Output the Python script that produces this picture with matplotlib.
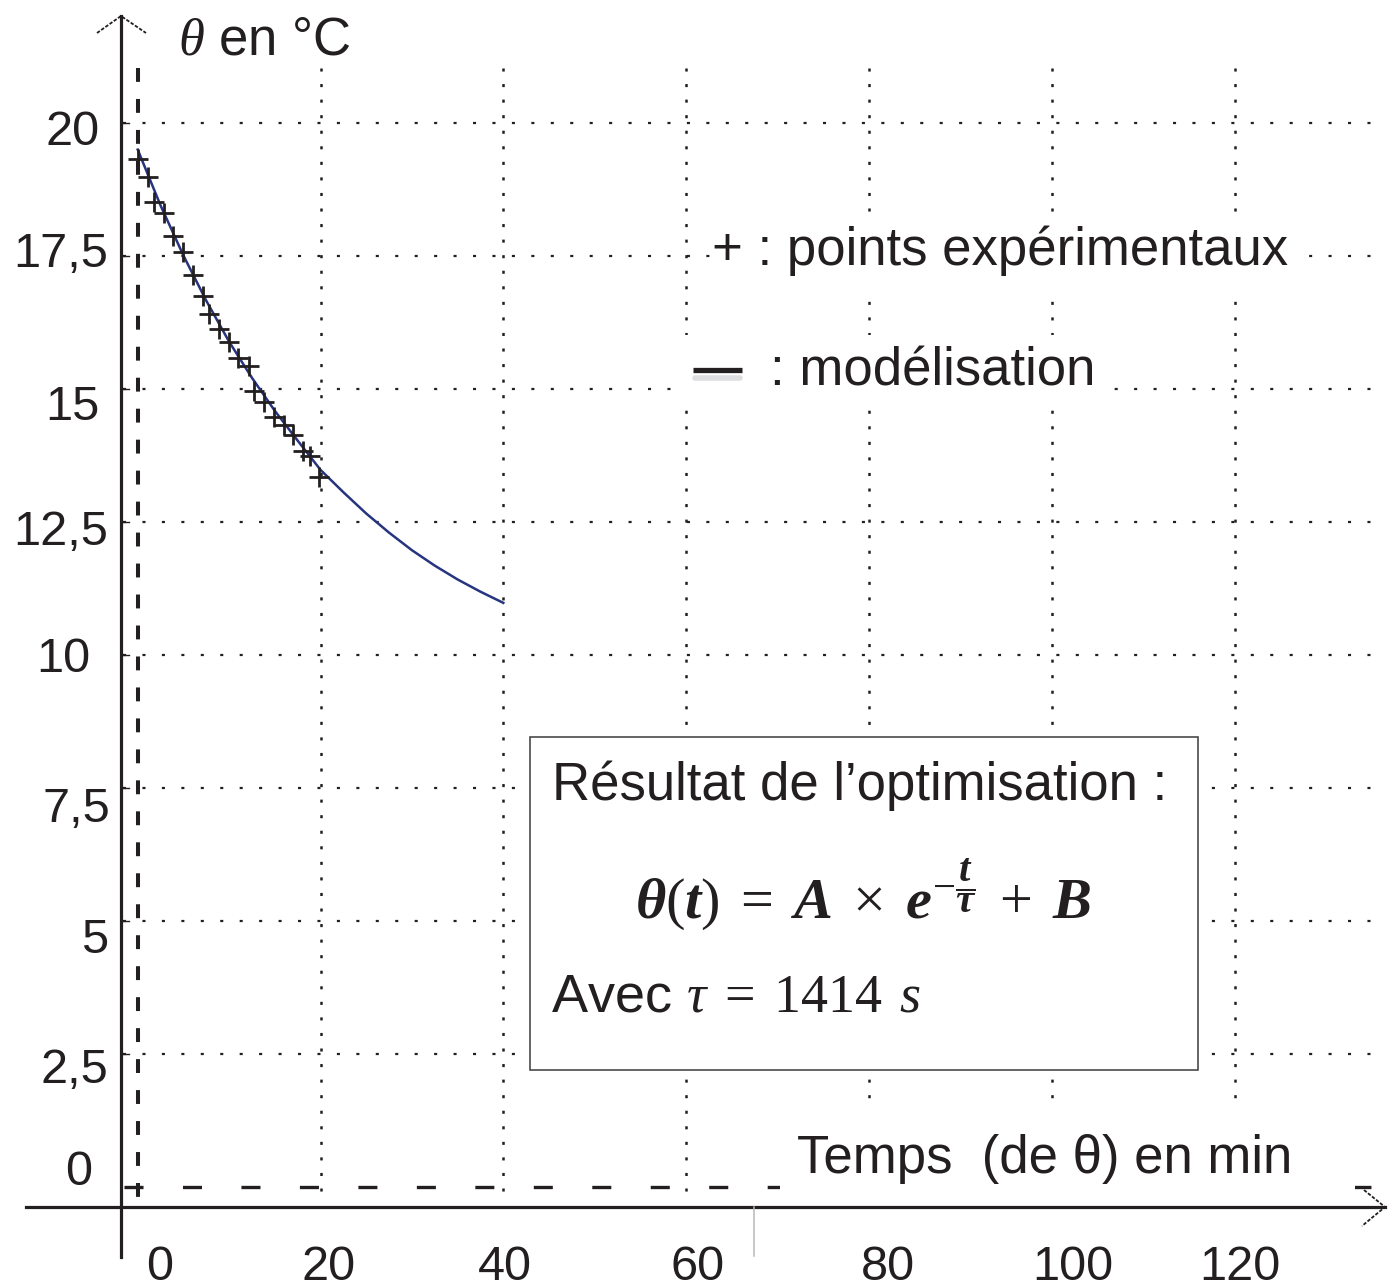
import numpy as np
import matplotlib
matplotlib.use("Agg")
import matplotlib.pyplot as plt
from matplotlib.patches import Rectangle

plt.rcParams['font.family'] = ['Liberation Sans', 'DejaVu Sans']
plt.rcParams['mathtext.fontset'] = 'custom'
plt.rcParams['mathtext.rm'] = 'Liberation Serif'
plt.rcParams['mathtext.it'] = 'Liberation Serif:italic'
plt.rcParams['mathtext.bf'] = 'Liberation Serif:italic:bold'
plt.rcParams['lines.scale_dashes'] = False

# points experimentaux (temps en min, theta en °C)
t_exp = [0.0, 1.1, 1.8, 2.9, 3.9, 5.0, 6.0, 7.1, 7.8, 8.9, 10.0,
         11.0, 12.2, 12.7, 13.8, 14.9, 16.0, 17.0, 18.1, 18.8, 19.8]
theta_exp = [19.32, 18.98, 18.52, 18.31, 17.88, 17.58, 17.14, 16.75, 16.41, 16.13, 15.88,
             15.58, 15.43, 14.96, 14.76, 14.48, 14.32, 14.14, 13.83, 13.74, 13.35]

# modelisation
t_mod = [0, 2.5, 5, 7.5, 10, 12.5, 15, 17.5, 20, 22.5, 25, 27.5, 30, 32.5, 35, 37.5, 40]
theta_mod = [19.50, 18.45, 17.51, 16.66, 15.89, 15.21, 14.59, 14.03, 13.48, 13.06,
             12.66, 12.30, 11.97, 11.68, 11.42, 11.19, 10.98]

x_ticks = [0, 20, 40, 60, 80, 100, 120]
x_labels = ["0", "20", "40", "60", "80", "100", "120"]
y_ticks = [0, 2.5, 5, 7.5, 10, 12.5, 15, 17.5, 20]
y_labels = ["0", "2,5", "5", "7,5", "10", "12,5", "15", "17,5", "20"]

# decalages des etiquettes (pixels), comme sur le document
x_lab_dx = [22, 8, 2, 11, 19, 21, 5]
y_lab_dy = [-2, 29, 32, 34, 17, 23, 31, 11, 22]
y_lab_right = [92, 108, 108, 110, 90, 108, 100, 108, 100]

INK = '#231f20'
W, H = 1394, 1288
x0, sx = 137.7, 9.14     # pixel de t=0, pixels par minute
y20, sy = 123.0, 53.2    # pixel de theta=20, pixels par °C


def tx(p):
    return (p - x0) / sx


def ty(p):
    return 20 - (p - y20) / sy


def py(v):
    return y20 + (20 - v) * sy


fig = plt.figure(figsize=(W / 100, H / 100), dpi=100)
ax = fig.add_axes([0, 0, 1, 1])
ax.set_xlim(tx(0), tx(W))
ax.set_ylim(ty(H), ty(0))
ax.set_axis_off()

# quadrillage pointille
for v in x_ticks[1:]:
    ax.plot([v, v], [ty(68), ty(1200)], color=INK, lw=1.8, dashes=(2.2, 9.0),
            dash_capstyle='butt', zorder=1)
for v in y_ticks[1:]:
    ax.plot([tx(123), tx(1372)], [v, v], color=INK, lw=1.6, dashes=(2.2, 11.8),
            dash_capstyle='butt', zorder=1)

# axes en tirets (t=0 et theta=0)
ax.plot([0, 0], [ty(68), ty(1200)], color=INK, lw=2.9, dashes=(10, 12.3),
        dash_capstyle='butt', zorder=2)
ax.plot([tx(124), tx(1380)], [0, 0], color=INK, lw=2.4, dashes=(13.7, 28.4),
        dash_capstyle='butt', zorder=2)

# zones blanches sous les textes
for (a, b, c, d) in [(712, 1300, 215, 290), (680, 1100, 335, 405), (780, 1355, 1110, 1200)]:
    ax.add_patch(Rectangle((tx(a), ty(d)), tx(b) - tx(a), ty(c) - ty(d),
                           facecolor='white', edgecolor='none', zorder=3))
ax.add_patch(Rectangle((tx(530), ty(1070)), tx(1198) - tx(530), ty(737) - ty(1070),
                       facecolor='white', edgecolor='#3a3a3a', lw=1.1, zorder=3))

# axes pleins avec fleches
ax.plot([tx(121), tx(121)], [ty(16), ty(1257)], color=INK, lw=2.3, zorder=4)
ax.plot([tx(26), tx(1385)], [ty(1207), ty(1207)], color=INK, lw=2.3, zorder=4)
ax.plot([tx(97), tx(121), tx(146)], [ty(33), ty(16), ty(33)], color=INK, lw=1.3,
        dashes=(2.5, 1.2), zorder=4)
ax.plot([tx(1364), tx(1385), tx(1362)], [ty(1190), ty(1207), ty(1226)], color=INK, lw=1.3,
        dashes=(2.5, 1.2), zorder=4)
for v in y_ticks[1:]:
    ax.plot([tx(121), tx(129)], [v, v], color=INK, lw=1.0, zorder=4)
ax.plot([tx(754), tx(754)], [ty(1207), ty(1256)], color='#b8b8b8', lw=1.1, zorder=4)

# modelisation et points
ax.plot(t_mod, theta_mod, color='#27347f', lw=1.8, zorder=5)
ax.plot(t_exp, theta_exp, '+', color=INK, ms=15, mew=2.0, zorder=6)

# etiquettes
for v, lab, dx in zip(x_ticks, x_labels, x_lab_dx):
    ax.text(v + dx / sx, ty(1280), lab, ha='center', va='baseline', fontsize=35, color=INK, zorder=7)
for v, lab, dy, r in zip(y_ticks, y_labels, y_lab_dy, y_lab_right):
    ax.text(tx(r), ty(py(v) + dy), lab, ha='right', va='baseline', fontsize=35, color=INK, zorder=7)

ax.text(tx(178), ty(55), r"$\theta$ en °C", ha='left', va='baseline', fontsize=38, color=INK, zorder=7)
ax.text(tx(797), ty(1173), "Temps  (de θ) en min", ha='left', va='baseline', fontsize=38,
        color=INK, zorder=7)

# legende
ax.text(tx(712), ty(265), "+ : points expérimentaux", ha='left', va='baseline', fontsize=38,
        color=INK, zorder=7)
ax.plot([tx(695), tx(740)], [ty(378), ty(378)], color='#d6d6da', lw=4, alpha=0.8,
        solid_capstyle='round', zorder=6)
ax.plot([tx(693), tx(742)], [ty(370), ty(370)], color=INK, lw=3.8,
        solid_capstyle='butt', zorder=7)
ax.text(tx(770), ty(385), ": modélisation", ha='left', va='baseline', fontsize=38,
        color=INK, zorder=7)

# cadre du resultat
ax.text(tx(552), ty(800), "Résultat de l\u2019optimisation :", ha='left', va='baseline',
        fontsize=38, color=INK, zorder=7)
ax.text(tx(863), ty(918),
        r"$\mathbf{\theta}(\mathbf{t})\;=\;\mathbf{A}\;\times\;\mathbf{e}^{-\dfrac{\mathbf{t}}{\mathbf{\tau}}}\;+\;\mathbf{B}$",
        ha='center', va='baseline', fontsize=42, color=INK, zorder=7)
ax.text(tx(551), ty(1012), r"Avec $\tau\;=\;1414\,\;s$", ha='left', va='baseline',
        fontsize=39, color=INK, zorder=7)

fig.savefig("out.png", dpi=100, facecolor='white')
